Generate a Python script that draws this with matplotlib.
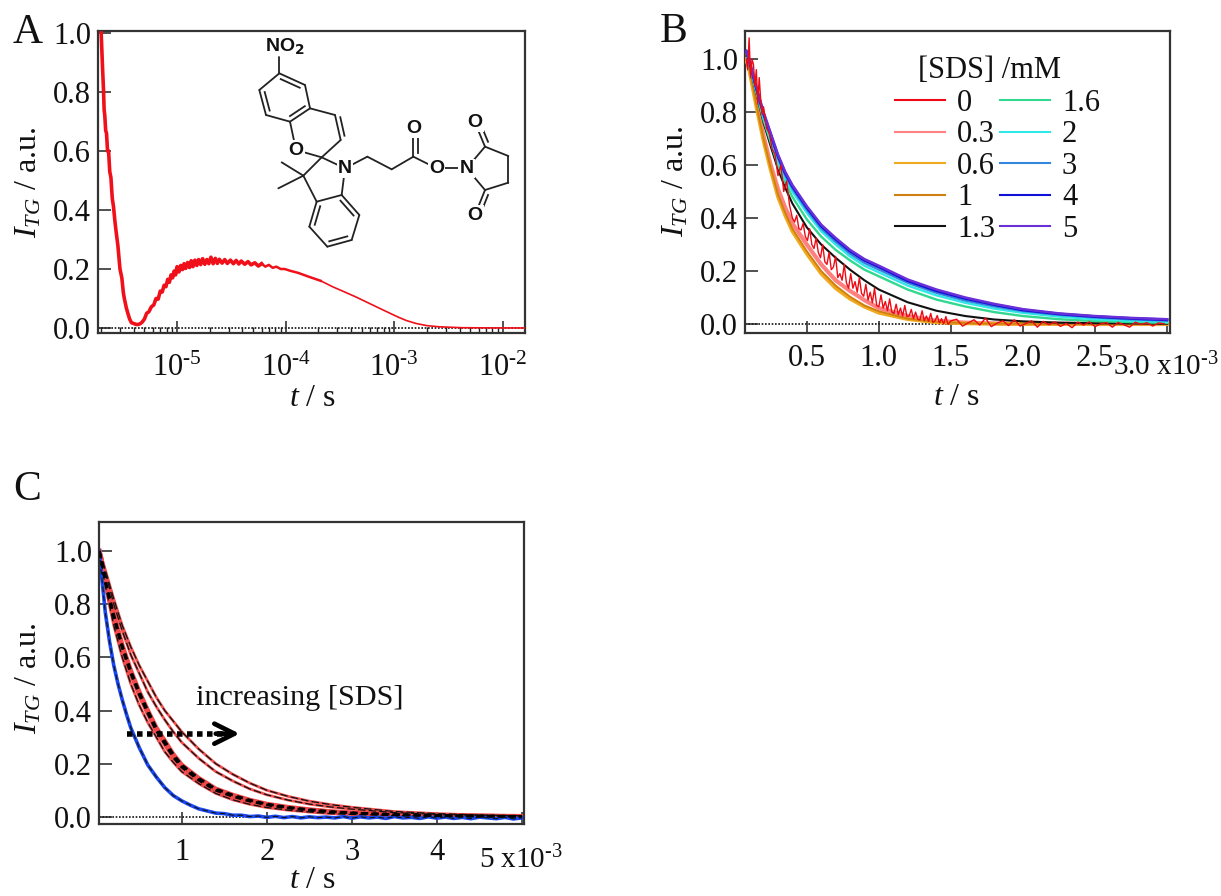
import matplotlib
matplotlib.use('Agg')
import matplotlib.pyplot as plt
from matplotlib.lines import Line2D
from matplotlib.ticker import NullFormatter
import numpy as np

plt.rcParams['font.family'] = ['Liberation Serif', 'DejaVu Serif']
plt.rcParams['mathtext.fontset'] = 'custom'
plt.rcParams['mathtext.rm'] = 'Liberation Serif'
plt.rcParams['mathtext.it'] = 'Liberation Serif:italic'
plt.rcParams['mathtext.bf'] = 'Liberation Serif:bold'

W, H = 1221, 896

# panel A, time in microseconds
t_a_us = [2.0, 2.03, 2.06, 2.1, 2.13, 2.16, 2.2, 2.24, 2.29, 2.34, 2.4, 2.46, 2.53, 2.6, 2.68, 2.76, 2.85,
          2.98, 3.1, 3.2, 3.27, 3.4, 3.52, 3.66, 3.8, 4.0, 4.2, 4.4, 4.6, 4.77, 5.0, 5.25, 5.5, 5.8, 6.1, 6.4,
          6.7, 7.0, 7.3, 7.6, 7.9, 8.2, 8.5, 8.8, 9.1, 9.4, 9.7, 10, 10.4, 10.8, 11.2, 11.6, 12, 12.5, 13, 13.5,
          14, 14.6, 15.2, 15.8, 16.5, 17.2, 18, 18.8, 19.6, 20.5, 21.5, 22.5, 23.5, 24.5, 26, 27.5, 29, 31, 33,
          35, 37, 39, 42, 45, 48, 52, 56, 60, 65, 70, 76, 82, 90, 98, 110, 130, 160, 210, 270, 350, 445, 600,
          800, 950, 1100, 1300, 1600, 2000, 2600, 4200, 8000, 16000]
i_a = [1.0, .94, .88, .81, .74, .72, .67, .66, .60, .60, .53, .51, .44, .41, .36, .32, .28,
       .20, .17, .12, .10, .07, .05, .03, .018, .015, .012, .012, .015, .02, .03, .05, .055, .072, .078, .10,
       .098, .125, .122, .145, .14, .165, .155, .18, .17, .193, .18, .208, .19, .212, .198, .218, .202, .222, .205, .228,
       .208, .23, .212, .232, .215, .235, .216, .232, .218, .24, .218, .236, .219, .233, .22, .232, .219, .23, .218,
       .229, .217, .227, .216, .225, .214, .221, .21, .218, .208, .214, .204, .208, .2, .2, .194, .187, .175, .16, .14, .122, .105, .082,
       .06, .047, .036, .025, .015, .008, .004, .001, .0002, 0]

# panel B, time in ms
t_b = [.08, .1, .15, .2, .25, .3, .35, .4, .5, .6, .7, .8, .9, 1.0, 1.2, 1.4, 1.6, 1.8, 2.0, 2.25, 2.5, 2.75, 3.0]
b_03 = [1.0, .97, .84, .71, .6, .51, .44, .38, .30, .225, .165, .125, .09, .06, .03, .012, .005, .002, .001, .001, 0, 0, 0]
b_06 = [1.0, .96, .82, .69, .58, .48, .41, .35, .265, .19, .135, .095, .065, .042, .018, .006, .002, .001, 0, 0, 0, 0, 0]
b_1 = [1.02, .97, .83, .70, .59, .49, .42, .36, .275, .20, .145, .103, .07, .048, .02, .008, .003, .001, .001, 0, 0, 0, 0]
b_13 = [1.03, .985, .87, .76, .67, .585, .515, .455, .365, .30, .25, .205, .165, .13, .082, .05, .03, .017, .01, .005, .003, .002, .001]
b_16 = [1.03, .985, .875, .77, .685, .60, .535, .48, .395, .33, .28, .24, .205, .18, .13, .092, .066, .045, .03, .018, .011, .007, .004]
b_2 = [1.03, .99, .88, .78, .695, .615, .55, .50, .42, .35, .30, .255, .22, .195, .145, .108, .08, .058, .042, .028, .018, .012, .008]
b_3 = [1.03, .99, .885, .785, .705, .625, .56, .51, .43, .36, .31, .265, .23, .205, .155, .117, .088, .066, .048, .034, .024, .017, .012]
b_4 = [1.03, .995, .89, .795, .715, .635, .57, .52, .44, .37, .32, .275, .24, .215, .163, .125, .096, .073, .053, .038, .028, .021, .016]
b_5 = [1.03, 1.0, .895, .80, .72, .64, .575, .525, .445, .375, .325, .28, .245, .22, .168, .13, .10, .076, .056, .04, .03, .023, .018]

# the noisy 0 mM trace has its own time points
t_b_0 = [.08, .09, .10, .11, .12, .13, .14, .15, .16, .17, .18, .19, .20, .22, .24, .26, .28, .30, .32, .34, .36, .38,
         .40, .415, .43, .445, .46, .475, .49, .505, .52, .535, .55, .565, .58, .595, .61, .625, .64, .655, .67, .685,
         .70, .715, .73, .745, .76, .775, .79, .805, .82, .835, .85, .865, .88, .895, .91, .925, .94, .955, .97, .985,
         1.0, 1.015, 1.03, 1.045, 1.06, 1.075, 1.09, 1.105, 1.12, 1.135, 1.15, 1.165, 1.18, 1.195, 1.21, 1.225, 1.24,
         1.255, 1.27, 1.285, 1.3, 1.315, 1.33, 1.345, 1.36, 1.375, 1.39, 1.405, 1.42, 1.435, 1.45, 1.465, 1.48, 1.5,
         1.54, 1.58, 1.62, 1.66, 1.7, 1.74, 1.78, 1.82, 1.86, 1.9, 1.94, 1.98, 2.02, 2.06, 2.1, 2.14, 2.18, 2.22, 2.26,
         2.3, 2.34, 2.38, 2.42, 2.46, 2.5, 2.54, 2.58, 2.62, 2.66, 2.7, 2.74, 2.78, 2.82, 2.86, 2.9, 2.94, 2.98]
b_0 = [1.0, .96, 1.08, .93, 1.0, .98, .9, .96, .83, .93, .85, .79, .82, .74, .72, .66, .64, .56, .6, .5, .54, .45,
       .40, .385, .41, .36, .355, .38, .33, .315, .36, .30, .285, .325, .27, .25, .30, .235, .225, .27, .205, .215,
       .255, .175, .19, .165, .225, .155, .135, .19, .135, .16, .12, .175, .115, .105, .15, .09, .12, .08, .135, .07,
       .065, .11, .06, .085, .05, .095, .045, .04, .075, .035, .06, .03, .07, .028, .03, .055, .02,
       .045, .018, .015, .05, .012, .03, .01, .04, .006, .012, .032, .004, .02, 0, .028, -.002, .012,
       .018, -.008, .004, .016, -.004, .022, -.01, .003, .012, -.006, .016, -.008, .002, .012, -.012, .01, -.003, .008, -.009,
       .002, -.014, .007, -.004, .008, -.01, .001, .005, -.012, .006, -.003, -.012, .007, -.002, .005, -.008, .004, .001]

legend_labels = ['0', '0.3', '0.6', '1', '1.3', '1.6', '2', '3', '4', '5']
legend_colors = ['#ee0a14', '#ff8080', '#f0aa20', '#d08010', '#111111', '#30d890', '#30e8e8', '#3388dd', '#1010d8', '#6a30d8']

# panel C, time in ms
t_c = [.03, .05, .1, .2, .3, .4, .5, .6, .7, .8, .9, 1, 1.2, 1.4, 1.6, 1.8, 2, 2.25, 2.5, 2.75, 3, 3.5, 4, 4.5, 5]
c_1 = [1.0, .985, .93, .82, .72, .64, .57, .51, .45, .40, .36, .32, .255, .20, .16, .127, .10, .077, .059, .046, .036, .02, .012, .007, .004]
c_2 = [1.0, .98, .92, .80, .70, .61, .54, .47, .415, .365, .32, .28, .22, .17, .135, .105, .083, .063, .048, .037, .029, .016, .009, .005, .003]
c_3 = [1.0, .975, .89, .76, .645, .55, .47, .40, .335, .285, .235, .195, .145, .105, .082, .063, .048, .036, .027, .02, .015, .009, .005, .003, .002]
c_4 = [1.0, .97, .885, .75, .635, .54, .46, .39, .325, .275, .225, .187, .138, .10, .077, .059, .045, .033, .025, .018, .014, .008, .004, .003, .001]
c_5 = [1.0, .965, .87, .72, .60, .50, .42, .355, .30, .245, .205, .17, .125, .088, .064, .047, .035, .025, .018, .012, .009, .005, .003, .002, .001]

t_blue = [.03, .05, .1, .15, .2, .25, .3, .35, .4, .5, .6, .7, .8, .9, 1, 1.1, 1.2, 1.3, 1.4, 1.5, 1.6, 1.7, 1.8, 1.9, 2, 2.1, 2.2, 2.3, 2.4,
          2.5, 2.6, 2.7, 2.8, 2.9, 3, 3.1, 3.2, 3.3, 3.4, 3.5, 3.6, 3.7, 3.8, 3.9, 4, 4.1, 4.2, 4.3, 4.4, 4.5, 4.6, 4.7, 4.8, 4.9, 5]
c_blue = [1.0, .93, .77, .66, .57, .50, .44, .385, .335, .26, .195, .15, .11, .08, .06, .044, .03, .022, .014, .012, .006, .006, .001, .003, -.002, .002,
          -.003, .001, -.004, 0, -.003, -.001, -.004, .001, -.005, 0, -.004, -.001, -.006, .001, -.004, -.002, -.006, 0, -.005,
          -.001, -.006, -.002, -.007, -.001, -.004, -.007, -.002, -.008, -.004]

# molecule in panel A: atom positions inside its own little box
atoms = {
    'c1': (118, 130), 'c2': (195, 165), 'c3': (210, 235), 'c4': (150, 275), 'c5': (78, 255), 'c6': (58, 180),
    'c7': (285, 255), 'c8': (302, 330), 'sp': (245, 382), 'o1': (168, 360), 'n1': (315, 415), 'cm': (190, 437),
    'm1': (125, 397), 'm2': (115, 475), 'c9': (230, 515), 'c10': (305, 495), 'c11': (358, 555), 'c12': (335, 630),
    'c13': (262, 650), 'c14': (208, 590), 'e1': (382, 380), 'e2': (455, 418), 'e3': (520, 380), 'o2': (520, 295),
    'o3': (590, 415), 'n2': (680, 415), 'i1': (735, 350), 'i2': (805, 378), 'i3': (805, 458), 'i4': (735, 480),
    'o4': (705, 278), 'o5': (705, 555), 'no': (118, 80),
}
bonds = [('c1', 'c2'), ('c2', 'c3'), ('c3', 'c4'), ('c4', 'c5'), ('c5', 'c6'), ('c6', 'c1'), ('c1', 'no'),
         ('c3', 'c7'), ('c7', 'c8'), ('c8', 'sp'), ('sp', 'o1'), ('o1', 'c4'), ('sp', 'n1'), ('sp', 'cm'),
         ('cm', 'm1'), ('cm', 'm2'), ('cm', 'c9'), ('c9', 'c10'), ('c10', 'n1'), ('c10', 'c11'), ('c11', 'c12'),
         ('c12', 'c13'), ('c13', 'c14'), ('c14', 'c9'), ('n1', 'e1'), ('e1', 'e2'), ('e2', 'e3'), ('e3', 'o2'),
         ('e3', 'o3'), ('o3', 'n2'), ('n2', 'i1'), ('i1', 'i2'), ('i2', 'i3'), ('i3', 'i4'), ('i4', 'n2'),
         ('i1', 'o4'), ('i4', 'o5')]
double_bonds = [('c1', 'c2', 1), ('c3', 'c4', 1), ('c5', 'c6', 1), ('c7', 'c8', -1), ('c9', 'c14', -1), ('c10', 'c11', 1),
                ('c12', 'c13', 1), ('e3', 'o2', 1), ('i1', 'o4', 1), ('i4', 'o5', -1)]
atom_labels = {'o1': 'O', 'n1': 'N', 'o2': 'O', 'o3': 'O', 'n2': 'N', 'o4': 'O', 'o5': 'O'}


def pixel_axes(fig, left, top, right, bottom):
    return fig.add_axes([left / W, 1 - bottom / H, (right - left) / W, (bottom - top) / H])


def style_axes(ax):
    for s in ax.spines.values():
        s.set_linewidth(1.6)
        s.set_color('#333333')
    ax.tick_params(axis='both', which='major', direction='in', length=9, width=1.1, labelsize=22, color='#222222',
                   labelcolor='#111111')
    ax.tick_params(axis='both', which='minor', direction='in', length=4.5, width=1.0, color='#222222')
    ax.axhline(0, color='#111111', lw=1.2, ls=(0, (1, 1)), zorder=1)
    ax.set_yticks([0, .2, .4, .6, .8, 1.0])
    ax.set_yticklabels(['0.0', '0.2', '0.4', '0.6', '0.8', '1.0'])
    ax.tick_params(axis='y', pad=5)


def axis_labels(fig, x_y, x_x, y_x, y_y):
    fig.text(y_x / W, 1 - y_y / H, r'$I_{TG}$ / a.u.', rotation=90, fontsize=23, ha='center', va='center', color='#111111')
    fig.text(x_x / W, 1 - x_y / H, r'$t$ / s', fontsize=23, ha='center', va='center', color='#111111')


fig = plt.figure(figsize=(W / 100, H / 100), dpi=100)

# A, the noisy early part is drawn heavier than the smooth tail
ax_a = pixel_axes(fig, 98, 31, 525, 333)
t_a = np.array(t_a_us) * 1e-6
i_60 = t_a_us.index(60)
i_210 = t_a_us.index(210)
ax_a.semilogx(t_a[:i_60 + 1], i_a[:i_60 + 1], color='#f0101a', lw=2.6, zorder=3)
ax_a.semilogx(t_a[i_60:i_210 + 1], i_a[i_60:i_210 + 1], color='#f0101a', lw=1.8, zorder=3)
ax_a.semilogx(t_a[i_210:], i_a[i_210:], color='#f0101a', lw=1.2, zorder=3)
ax_a.set_xlim(1.87e-6, 1.6e-2)
ax_a.set_ylim(-0.017, 1.007)
style_axes(ax_a)
ax_a.set_xticks([1e-5, 1e-4, 1e-3, 1e-2])
ax_a.set_xticklabels([r'$\mathregular{10^{\text{-}%d}}$' % n for n in [5, 4, 3, 2]])
ax_a.xaxis.set_minor_formatter(NullFormatter())
ax_a.tick_params(axis='x', which='major', pad=15)
axis_labels(fig, 398, 313, 29, 182)

# B
ax_b = pixel_axes(fig, 745, 31, 1170, 333)
for vals, col, lw in zip([b_03, b_06, b_1, b_13, b_16, b_2, b_3, b_4, b_5], legend_colors[1:],
                         [3.0, 2.6, 1.4, 1.5, 1.7, 1.7, 1.5, 2.0, 1.8]):
    ax_b.plot(t_b, vals, color=col, lw=lw, zorder=3)
ax_b.plot(t_b_0, b_0, color=legend_colors[0], lw=1.0, zorder=4)
ax_b.set_xlim(0.0714, 3.02)
ax_b.set_ylim(-0.034, 1.106)
style_axes(ax_b)
ax_b.set_xticks([.5, 1, 1.5, 2, 2.5, 3])
ax_b.set_xticklabels(['0.5', '1.0', '1.5', '2.0', '2.5', ''])
ax_b.tick_params(axis='x', pad=8)
fig.text(1219 / W, 1 - 367 / H, r'3.0 x10$^{\mathregular{\text{-}3}}$', fontsize=21, ha='right', va='center', color='#111111')
axis_labels(fig, 397, 957, 676, 181)

handles = [Line2D([], [], color=c, lw=1.5) for c in legend_colors]
leg = ax_b.legend(handles, legend_labels, ncol=2, frameon=False, fontsize=22,
                  handlelength=1.64, handletextpad=0.4, columnspacing=0.15, labelspacing=0.08, borderpad=0, borderaxespad=0,
                  loc='upper left', bbox_to_anchor=(0.352, 0.808))
for txt in leg.get_texts():
    txt.set_color('#111111')
fig.text(989 / W, 1 - 70 / H, '[SDS] /mM', fontsize=22, ha='center', va='center', color='#111111')

# C
ax_c = pixel_axes(fig, 99, 522, 524, 824)
for vals in [c_1, c_2, c_5]:
    ax_c.plot(t_c, vals, color='#f05050', lw=2.0, zorder=2)
    ax_c.plot(t_c, vals, color='#111111', lw=0.9, ls=(0, (6, 2.5)), zorder=3)
for vals in [c_3, c_4]:
    ax_c.plot(t_c, vals, color='#f04848', lw=3.4, zorder=2)
for vals in [c_3, c_4]:
    ax_c.plot(t_c, vals, color='black', lw=2.0, ls=(0, (2.2, 1.6)), zorder=3)
ax_c.plot(t_blue, c_blue, color='#1a48f0', lw=2.6, zorder=2)
ax_c.plot(t_blue, c_blue, color='#111111', lw=0.8, ls=(0, (5, 3)), zorder=3)
ax_c.set_xlim(0.026, 5.025)
ax_c.set_ylim(-0.027, 1.11)
style_axes(ax_c)
ax_c.set_xticks([1, 2, 3, 4, 5])
ax_c.set_xticklabels(['1', '2', '3', '4', ''])
ax_c.tick_params(axis='x', pad=10)
fig.text(563 / W, 1 - 860 / H, r'5 x10$^{\mathregular{\text{-}3}}$', fontsize=21, ha='right', va='center', color='#111111')
axis_labels(fig, 880, 313, 29, 678)

ax_c.plot([.36, 1.55], [.313, .313], color='black', lw=4.0, ls=(0, (1, 0.8)), zorder=5)
ax_c.annotate('', xy=(1.68, .313), xytext=(1.4, .313),
              arrowprops=dict(arrowstyle='->', color='black', lw=3.4, mutation_scale=36, shrinkA=0, shrinkB=0), zorder=5)
ax_c.text(1.165, .448, 'increasing [SDS]', fontsize=21.8, ha='left', va='center', color='#111111', zorder=5)

# panel letters
for letter, x, y in [('A', 13, 33), ('B', 660, 32), ('C', 13, 490)]:
    fig.text(x / W, 1 - y / H, letter, fontsize=30, ha='left', va='center', color='#111111')

# molecule
ax_m = pixel_axes(fig, 240, 30, 510, 250)
ax_m.set_xlim(0, 810)
ax_m.set_ylim(660, 0)
ax_m.axis('off')
ax_m.patch.set_alpha(0)
for a, b in bonds:
    ax_m.plot([atoms[a][0], atoms[b][0]], [atoms[a][1], atoms[b][1]], color='#222222', lw=1.3, solid_capstyle='round')
for a, b, side in double_bonds:
    p = np.array(atoms[a], dtype=float)
    q = np.array(atoms[b], dtype=float)
    d = q - p
    n = np.array([-d[1], d[0]]) / np.hypot(*d) * 14 * side
    ax_m.plot([p[0] + .13 * d[0] + n[0], p[0] + .87 * d[0] + n[0]], [p[1] + .13 * d[1] + n[1], p[1] + .87 * d[1] + n[1]],
              color='#222222', lw=1.3)
for key, label in atom_labels.items():
    ax_m.text(atoms[key][0], atoms[key][1], label, family='Liberation Sans', weight='bold', fontsize=14, ha='center',
              va='center', color='#111111', zorder=5, bbox=dict(fc='white', ec='none', pad=0.8))
ax_m.text(135, 52, r'NO$_{\mathbf{2}}$', family='Liberation Sans', weight='bold', fontsize=14, ha='center', va='center',
          color='#111111', zorder=5, math_fontfamily='dejavusans')

fig.savefig('out.png', dpi=100)
